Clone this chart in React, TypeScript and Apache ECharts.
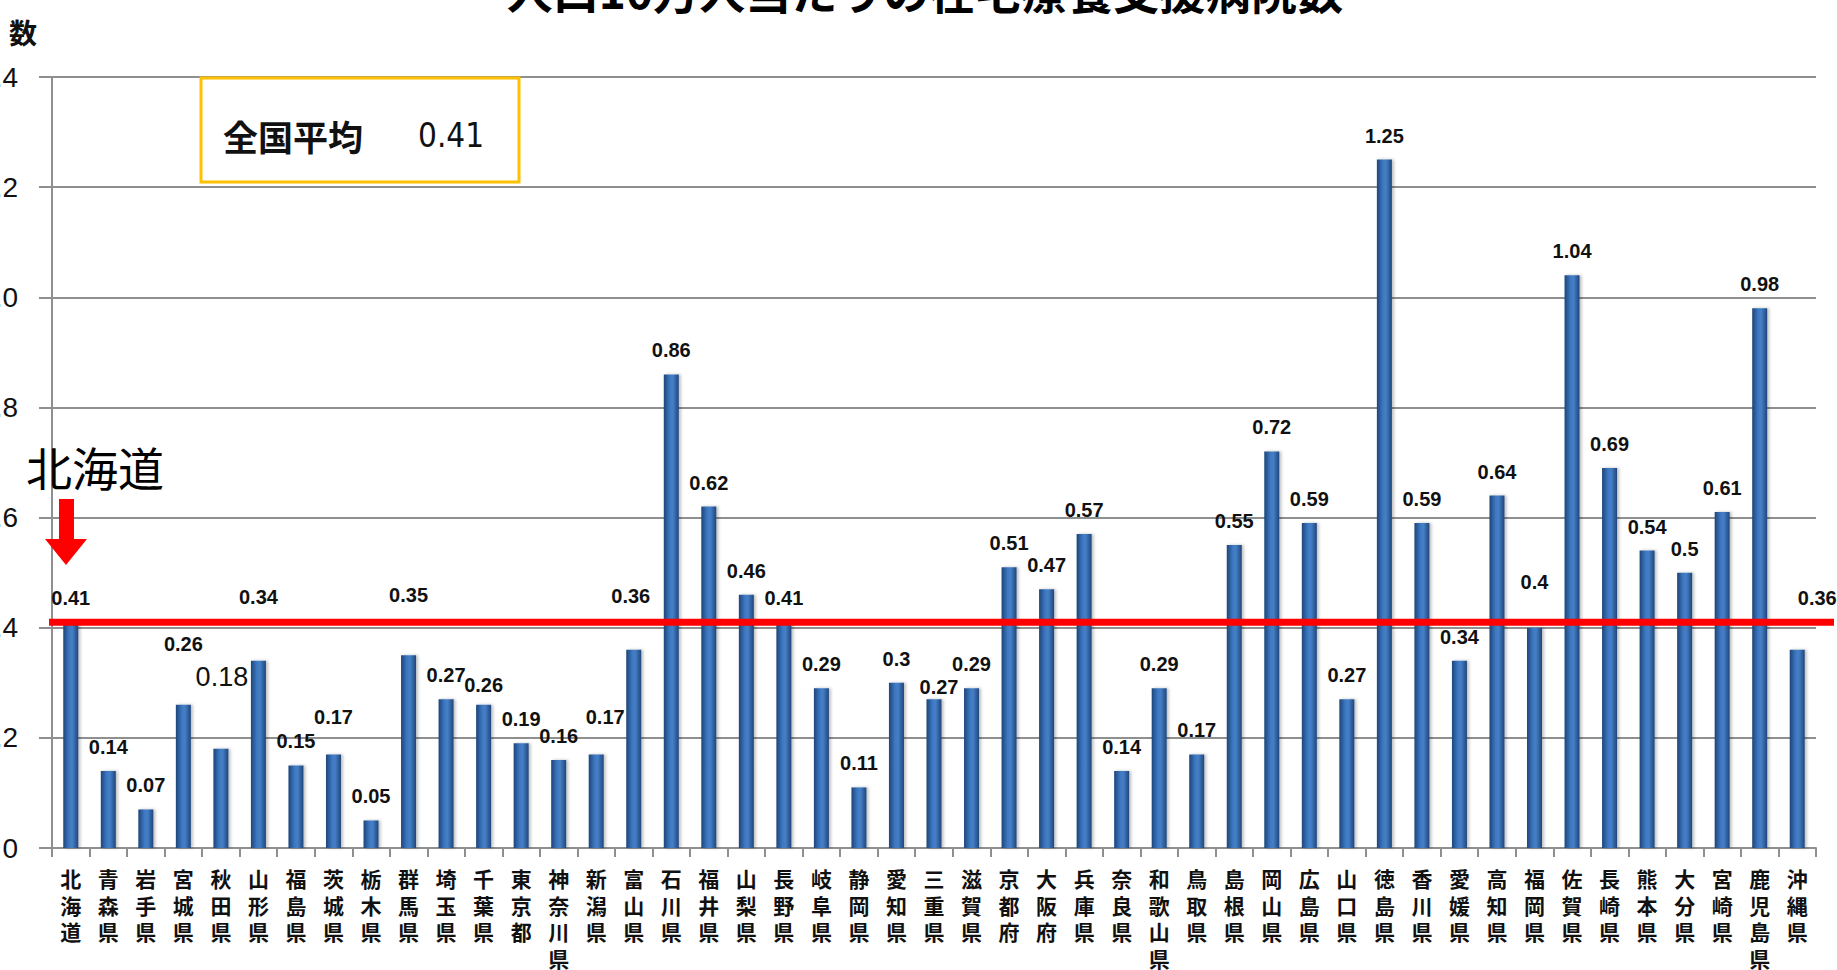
import React, { useEffect, useRef } from "react";
import * as echarts from "echarts";

const titleText = "人口10万人当たりの在宅療養支援病院数";
const yAxisName = "数";
const averageCaption = "全国平均";
const calloutText = "北海道";

const prefectures = [
  "北海道", "青森県", "岩手県", "宮城県", "秋田県", "山形県", "福島県", "茨城県", "栃木県", "群馬県",
  "埼玉県", "千葉県", "東京都", "神奈川県", "新潟県", "富山県", "石川県", "福井県", "山梨県", "長野県",
  "岐阜県", "静岡県", "愛知県", "三重県", "滋賀県", "京都府", "大阪府", "兵庫県", "奈良県", "和歌山県",
  "鳥取県", "島根県", "岡山県", "広島県", "山口県", "徳島県", "香川県", "愛媛県", "高知県", "福岡県",
  "佐賀県", "長崎県", "熊本県", "大分県", "宮崎県", "鹿児島県", "沖縄県",
];

const hospitalsPer100k = [
  0.41, 0.14, 0.07, 0.26, 0.18, 0.34, 0.15, 0.17, 0.05, 0.35,
  0.27, 0.26, 0.19, 0.16, 0.17, 0.36, 0.86, 0.62, 0.46, 0.41,
  0.29, 0.11, 0.3, 0.27, 0.29, 0.51, 0.47, 0.57, 0.14, 0.29,
  0.17, 0.55, 0.72, 0.59, 0.27, 1.25, 0.59, 0.34, 0.64, 0.4,
  1.04, 0.69, 0.54, 0.5, 0.61, 0.98, 0.36,
];

const nationalAverage = 0.41;

const yMin = 0;
const yMax = 1.4;
const yInterval = 0.2;

// label placement tweaks (style only), keyed by category index
const labelTweaks: Record<number, { offset: [number, number]; fontSize?: number; fontWeight?: string }> = {
  3: { offset: [0, -37] },
  4: { offset: [1, -44], fontSize: 27, fontWeight: "normal" },
  5: { offset: [0, -40] },
  7: { offset: [0, -13] },
  9: { offset: [0, -36] },
  11: { offset: [0, 4] },
  14: { offset: [9, -13] },
  15: { offset: [-3, -30] },
  23: { offset: [5, 12] },
  39: { offset: [0, -22] },
  46: { offset: [20, -28] },
};

export default function App() {
  const ref = useRef<HTMLDivElement>(null);

  useEffect(() => {
    if (!ref.current) return;
    const chart = echarts.init(ref.current, null, { renderer: "svg" });

    const barColor = new echarts.graphic.LinearGradient(0, 0, 1, 0, [
      { offset: 0, color: "#1d4579" },
      { offset: 0.4, color: "#3d78c2" },
      { offset: 0.6, color: "#467fc6" },
      { offset: 1, color: "#1f467c" },
    ]);

    const seriesData = hospitalsPer100k.map((v, i) => {
      const t = labelTweaks[i];
      if (!t) return v;
      return {
        value: v,
        label: {
          offset: t.offset,
          ...(t.fontSize ? { fontSize: t.fontSize } : {}),
          ...(t.fontWeight ? { fontWeight: t.fontWeight } : {}),
        },
      };
    });

    chart.setOption({
      animation: false,
      backgroundColor: "#ffffff",
      grid: { left: 52, right: 21, top: 77, bottom: 122, containLabel: false, outerBoundsMode: "none" },
      xAxis: {
        type: "category",
        data: prefectures,
        axisLine: { show: true, lineStyle: { color: "#8f8f8f", width: 2 } },
        axisTick: { show: true, length: 9, lineStyle: { color: "#8f8f8f", width: 2 } },
        axisLabel: {
          interval: 0,
          margin: 17,
          fontSize: 21,
          fontWeight: "bold",
          lineHeight: 26.5,
          color: "#111",
          fontFamily: "Noto Sans CJK JP",
          formatter: (s: string) => s.split("").join("\n"),
        },
      },
      yAxis: {
        type: "value",
        min: yMin,
        max: yMax,
        interval: yInterval,
        axisLine: { show: true, lineStyle: { color: "#8f8f8f", width: 2 } },
        axisTick: { show: true, length: 13, lineStyle: { color: "#8f8f8f", width: 2 } },
        splitLine: { show: true, lineStyle: { color: "#8f8f8f", width: 2 } },
        axisLabel: {
          margin: 34,
          fontSize: 28,
          color: "#111",
          fontFamily: "Liberation Sans",
          formatter: (v: number) => (v === 0 ? "0" : v.toFixed(1)),
        },
      },
      series: [
        {
          type: "bar",
          data: seriesData,
          barWidth: 15,
          itemStyle: {
            color: barColor,
            shadowColor: "rgba(0,0,0,0.25)",
            shadowBlur: 3,
            shadowOffsetX: 2,
            shadowOffsetY: 0,
          },
          label: {
            show: true,
            position: "top",
            distance: 14,
            fontSize: 20,
            fontWeight: "bold",
            color: "#111",
            fontFamily: "Liberation Sans",
            formatter: (p: any) => String(p.value),
          },
          z: 2,
        },
      ],
    });

    const yAvg = chart.convertToPixel({ yAxisIndex: 0 }, nationalAverage) as number;

    chart.setOption({
      graphic: [
        {
          type: "text",
          x: 925,
          y: 12,
          z: 100,
          style: {
            text: titleText,
            fontSize: 46,
            fontWeight: "bold",
            fontFamily: "Noto Sans CJK JP",
            fill: "#000",
            textAlign: "center",
            textVerticalAlign: "bottom",
          },
        },
        {
          type: "text",
          x: 23,
          y: 32,
          z: 100,
          style: {
            text: yAxisName,
            fontSize: 28,
            fontWeight: "bold",
            fontFamily: "Noto Sans CJK JP",
            fill: "#111",
            textAlign: "center",
            textVerticalAlign: "middle",
          },
        },
        {
          type: "rect",
          z: 100,
          shape: { x: 201, y: 78, width: 318, height: 104 },
          style: { fill: "#ffffff", stroke: "#FFC000", lineWidth: 3 },
        },
        {
          type: "text",
          x: 223,
          y: 135,
          z: 101,
          style: {
            text: averageCaption,
            fontSize: 35,
            fontWeight: "bold",
            fontFamily: "Noto Sans CJK JP",
            fill: "#111",
            textAlign: "left",
            textVerticalAlign: "middle",
          },
        },
        {
          type: "text",
          x: 418,
          y: 135,
          z: 101,
          style: {
            text: String(nationalAverage),
            fontSize: 33,
            fontFamily: "'DejaVu Sans Condensed', 'Liberation Sans', sans-serif",
            fill: "#111",
            textAlign: "left",
            textVerticalAlign: "middle",
          },
        },
        {
          type: "line",
          z: 100,
          shape: { x1: 49, y1: yAvg, x2: 1834, y2: yAvg },
          style: { stroke: "#FF0000", lineWidth: 7 },
        },
        {
          type: "text",
          x: 26,
          y: 466,
          z: 100,
          style: {
            text: calloutText,
            fontSize: 46,
            fontFamily: "Noto Sans CJK JP",
            fill: "#000",
            textAlign: "left",
            textVerticalAlign: "middle",
          },
        },
        {
          type: "polygon",
          z: 100,
          shape: {
            points: [
              [59, 499], [74, 499], [74, 539], [87, 539], [66, 565], [45, 539], [59, 539],
            ],
          },
          style: { fill: "#FF0000" },
        },
      ],
    });

    return () => chart.dispose();
  }, []);

  return (
    <div
      ref={ref}
      style={{ position: "fixed", left: 0, top: 0, width: 1837, height: 970, background: "#fff" }}
    />
  );
}
